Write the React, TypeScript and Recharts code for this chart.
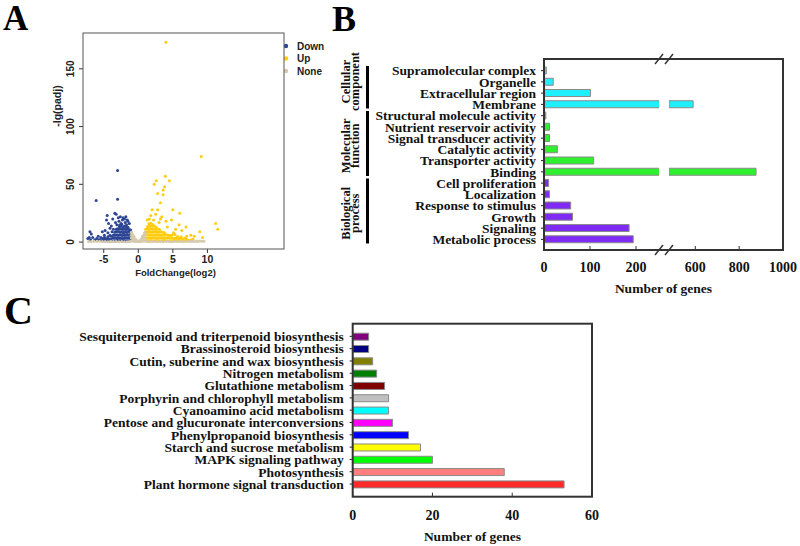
import { BarChart, Bar, Cell, XAxis, YAxis, ScatterChart, Scatter, Legend } from 'recharts';

const SERIF = '"Liberation Serif", "Times New Roman", serif';
const SANS = '"Liberation Sans", Arial, sans-serif';

// ---- A: volcano plot (log2 fold change, -lg padj) ----
const downGenes: [number, number][] = [
  [-6.1, 36], [-3.0, 62], [-3.0, 37], [-7.0, 9], [-7.3, 3], [-6.9, 2], [-6.6, 4], [-6.3, 2], [-6.0, 3],
  [-5.7, 2], [-5.4, 4], [-5.2, 9], [-5.5, 2], [-4.9, 6], [-4.6, 19], [-4.5, 23], [-4.3, 16], [-4.1, 12],
  [-3.9, 14], [-3.7, 20], [-3.6, 11], [-3.4, 25], [-3.2, 24], [-3.3, 17], [-3.1, 15], [-2.9, 21], [-2.8, 18],
  [-2.6, 22], [-2.5, 16], [-2.3, 19], [-2.2, 21], [-2.0, 20], [-1.9, 17], [-1.8, 22], [-1.6, 19], [-1.5, 18],
  [-1.3, 16], [-2.7, 14.5], [-2.4, 15.5], [-1.7, 15], [-4.8, 10], [-4.4, 8], [-3.8, 9], [-5.8, 5], [-6.8, 7],
  [-7.1, 4],
  [-5.2, 1], [-5.0, 2], [-4.8, 1], [-4.7, 3], [-4.5, 1.5], [-4.3, 3], [-4.2, 1], [-4.0, 2.5], [-3.9, 5],
  [-3.8, 1], [-3.7, 3.5], [-3.6, 6], [-4.4, 4.5], [-4.9, 4], [-5.1, 3], [-4.1, 6],
  [-3.5, 1.2], [-3.45, 3.6], [-3.52, 6.1], [-3.4, 8.4],
  [-3.25, 0.8], [-3.2, 3.2], [-3.28, 5.8], [-3.22, 8.9], [-3.18, 11.2],
  [-3.0, 1.5], [-2.98, 3.9], [-3.05, 6.4], [-2.95, 9.1], [-3.02, 11.6],
  [-2.75, 0.9], [-2.72, 3.4], [-2.78, 5.9], [-2.7, 8.6], [-2.76, 11.1], [-2.73, 13.2],
  [-2.5, 1.3], [-2.48, 3.8], [-2.53, 6.3], [-2.46, 8.8], [-2.51, 11.4], [-2.49, 13.6],
  [-2.25, 0.7], [-2.22, 3.1], [-2.28, 5.6], [-2.2, 8.2], [-2.26, 10.8], [-2.23, 13.1],
  [-2.0, 1.4], [-1.97, 3.9], [-2.03, 6.5], [-1.98, 9.0], [-2.02, 11.5], [-2.0, 13.9],
  [-1.75, 0.8], [-1.72, 3.3], [-1.78, 5.8], [-1.7, 8.3], [-1.76, 10.9], [-1.73, 13.0],
  [-1.5, 1.2], [-1.48, 3.7], [-1.53, 6.2], [-1.46, 8.7], [-1.51, 11.2], [-1.49, 12.8],
  [-1.25, 0.9], [-1.22, 3.4], [-1.28, 5.9], [-1.2, 8.4], [-1.26, 10.7],
  [-1.05, 1.3], [-1.08, 3.8], [-1.03, 6.2], [-1.06, 8.6], [-1.1, 10.5],
];

const upGenes: [number, number][] = [
  [4.0, 173], [9.1, 74], [3.9, 57], [2.3, 50], [2.6, 53], [4.5, 53], [3.8, 48], [3.6, 45], [2.8, 42],
  [3.6, 41], [3.2, 34], [2.8, 28], [5.0, 28], [6.0, 25], [2.0, 28], [1.8, 23], [2.5, 24], [3.2, 20],
  [4.0, 18], [4.8, 19], [5.9, 15], [6.3, 10], [6.9, 13], [11.2, 16], [11.5, 11], [8.9, 9], [9.3, 4],
  [8.1, 5], [7.6, 6], [7.0, 5], [5.4, 11], [4.2, 13], [5.1, 8], [3.4, 22], [1.6, 20], [2.2, 19],
  [3.0, 17], [1.3, 19],
  [1.05, 1], [1.07, 3.5], [1.04, 6], [1.08, 8.5], [1.06, 11],
  [1.3, 1.2], [1.28, 3.6], [1.32, 6.1], [1.3, 8.6], [1.27, 11.1], [1.31, 13.5],
  [1.55, 0.9], [1.53, 3.4], [1.57, 5.9], [1.54, 8.4], [1.56, 10.9], [1.52, 13.4], [1.55, 15.9],
  [1.8, 1.3], [1.78, 3.8], [1.82, 6.3], [1.79, 8.8], [1.81, 11.3], [1.8, 13.8], [1.83, 16.2],
  [2.05, 1.0], [2.03, 3.5], [2.07, 6.0], [2.04, 8.5], [2.06, 11.0], [2.05, 13.5], [2.08, 15.2],
  [2.3, 1.2], [2.28, 3.7], [2.32, 6.2], [2.29, 8.7], [2.31, 11.2], [2.3, 13.9],
  [2.55, 0.9], [2.53, 3.4], [2.57, 5.9], [2.54, 8.4], [2.56, 10.9], [2.55, 13.0],
  [2.8, 1.3], [2.78, 3.8], [2.82, 6.3], [2.79, 8.8], [2.81, 11.6],
  [3.05, 1.0], [3.03, 3.5], [3.07, 6.0], [3.04, 8.5], [3.06, 10.8],
  [3.3, 1.2], [3.28, 3.7], [3.32, 6.2], [3.29, 8.9],
  [3.55, 0.9], [3.53, 3.4], [3.57, 5.9], [3.54, 8.6],
  [3.8, 1.3], [3.78, 3.8], [3.82, 6.3], [3.79, 8.1],
  [4.05, 1.0], [4.03, 3.5], [4.07, 6.4],
  [4.3, 1.2], [4.28, 3.7], [4.32, 5.8],
  [4.6, 1], [4.6, 3.4], [4.6, 5.6], [4.9, 1.2], [4.9, 3.6], [4.9, 6.2], [5.2, 0.8], [5.2, 3.1],
  [5.5, 1.4], [5.5, 3.8], [5.8, 1], [5.8, 2.9], [6.1, 1.3], [6.1, 3.5], [6.4, 0.9], [6.4, 2.6],
  [6.7, 1.2], [6.7, 3.2], [7.0, 1.1], [7.0, 2.4], [7.3, 1.4], [7.6, 1.8], [7.9, 2.5], [5.3, 6.5],
  [5.7, 4.8], [6.2, 4.6],
];

const notSigGenes: [number, number][] = [
  [-1.0, 1], [-1.0, 3.5], [-1.0, 6], [-1.0, 8.5], [-0.8, 1], [-0.8, 3.4], [-0.8, 5.8], [-0.6, 0.8],
  [-0.6, 3], [-0.6, 4.8], [-0.4, 0.6], [-0.4, 2.4], [-0.2, 0.4], [-0.2, 1.2], [0, 0.3], [0.2, 0.5],
  [0.2, 1.4], [0.4, 0.6], [0.4, 2.6], [0.6, 0.9], [0.6, 3.1], [0.6, 5], [0.8, 1], [0.8, 3.5], [0.8, 6],
  [1.0, 1.2], [1.0, 3.6], [1.0, 6.3], [1.0, 8.8], [-0.9, 7.5], [0.9, 7.8],
  [-7.2, 0.6], [-6.8, 0.4], [-6.4, 0.8], [-6.0, 0.5], [-5.6, 0.7], [-5.2, 0.4], [-4.8, 0.6], [-4.4, 0.3],
  [-4.0, 0.7], [-3.6, 0.4], [-3.2, 0.5], [-2.8, 0.3], [-2.4, 0.4], [-2.0, 0.2], [-1.6, 0.3], [-1.3, 0.5],
  [1.3, 0.4], [1.6, 0.2], [2.0, 0.3], [2.4, 0.4], [2.8, 0.2], [3.2, 0.5], [3.6, 0.3], [4.0, 0.4],
  [4.4, 0.6], [4.8, 0.3], [5.2, 0.5], [5.6, 0.4], [6.0, 0.6], [6.4, 0.3], [6.8, 0.5], [7.2, 0.4],
  [7.6, 0.6], [8.0, 0.5], [8.3, 0.8], [8.6, 0.6], [8.9, 0.9], [9.2, 0.7], [9.5, 0.8], [7.8, 1.0],
];

const volcanoXTicks = [-5, 0, 5, 10];
const volcanoYTicks = [0, 50, 100, 150];

// ---- B: GO classification ----
const goTerms = [
  'Supramolecular complex', 'Organelle', 'Extracellular region', 'Membrane',
  'Structural molecule activity', 'Nutrient reservoir activity', 'Signal transducer activity',
  'Catalytic activity', 'Transporter activity', 'Binding',
  'Cell proliferation', 'Localization', 'Response to stimulus', 'Growth', 'Signaling', 'Metabolic process',
];
const goCounts = [5, 20, 101, 590, 4, 12, 12, 29, 108, 877, 10, 12, 58, 62, 185, 194];
const goGroups = [
  { lines: ['Cellular', 'component'], size: 4, color: '#1FEFFF', shift: -6 },
  { lines: ['Molecular', 'function'], size: 6, color: '#2EF02E', shift: 2 },
  { lines: ['Biological', 'process'], size: 6, color: '#7F2BF5', shift: 2 },
];
const goLowTicks = [0, 100, 200];
const goHighTicks = [600, 800, 1000];

// ---- C: KEGG enrichment ----
const keggPathways = [
  'Sesquiterpenoid and triterpenoid biosynthesis', 'Brassinosteroid biosynthesis',
  'Cutin, suberine and wax biosynthesis', 'Nitrogen metabolism', 'Glutathione metabolism',
  'Porphyrin and chlorophyll metabolism', 'Cyanoamino acid metabolism',
  'Pentose and glucuronate interconversions', 'Phenylpropanoid biosynthesis',
  'Starch and sucrose metabolism', 'MAPK signaling pathway', 'Photosynthesis',
  'Plant hormone signal transduction',
];
const keggCounts = [4, 4, 5, 6, 8, 9, 9, 10, 14, 17, 20, 38, 53];
const keggColors = [
  '#800080', '#000080', '#808000', '#008000', '#800000', '#C0C0C0', '#00FFFF',
  '#FF00FF', '#0000FF', '#FFFF00', '#00FF00', '#FF7F7F', '#FF2A2A',
];
const keggTicks = [0, 20, 40, 60];

const DOWN = '#2C4594';
const UP = '#FFCC10';
const NONE = '#D6CAAE';

// layout of B (page pixels)
const bTop = 59;
const bBottom = 250;
const bLeft = 544;
const bBreakL = 659;
const bBreakR = 669;
const bRight = 783;
const bPadTop = 6;
const bPadBottom = 5;
const breakLow = 250;
const breakHigh = 480;

const toPoints = (arr: [number, number][]) => arr.map(([x, y]) => ({ x, y }));

const goColors = goGroups.flatMap(g => Array(g.size).fill(g.color));
const goData = goTerms.map((term, i) => ({ term, count: goCounts[i] }));
const goHighData = goTerms.map((term, i) => ({ term, count: goCounts[i] > breakHigh ? goCounts[i] : null }));
const keggData = keggPathways.map((name, i) => ({ name, count: keggCounts[i] }));

const dot = (color: string) => (p: any) => <circle cx={p.cx} cy={p.cy} r={1.5} fill={color} />;

const boldSerifTick = { fontSize: 14, fontWeight: 'bold', fill: '#111', fontFamily: SERIF };
const categoryTick = { fontSize: 13.5, fontWeight: 'bold', fill: '#111', fontFamily: SERIF };

function RotatedTick({ x, y, payload }: any) {
  return (
    <text transform={`translate(${x},${y}) rotate(-90)`} textAnchor="middle"
      fontSize={10} fontWeight="bold" fontFamily={SANS} fill="#222">
      {payload.value}
    </text>
  );
}

function VolcanoLegend() {
  const items = [['Down', DOWN], ['Up', UP], ['None', NONE]];
  return (
    <svg width={60} height={40}>
      {items.map(([label, color], i) => (
        <g key={label}>
          <circle cx={6} cy={5 + i * 12.5} r={2.2} fill={color} />
          <text x={17} y={8.5 + i * 12.5} fontSize={10} fontWeight="bold" fontFamily={SANS} fill="#222">{label}</text>
        </g>
      ))}
    </svg>
  );
}

export default function App() {
  const band = (bBottom - bTop - bPadTop - bPadBottom) / goTerms.length;
  let row = 0;
  const groupMarks = goGroups.map(g => {
    const y0 = bTop + bPadTop + row * band;
    row += g.size;
    const y1 = bTop + bPadTop + row * band;
    return { ...g, y0: y0 + 1, y1: y1 - 1.5, mid: (y0 + y1) / 2 + g.shift };
  });
  const breakX = (bBreakL + bBreakR) / 2;
  const frames = [
    { l: 83, t: 33, r: 284, b: 249, w: 1, c: '#555' },
    { l: bLeft, t: bTop, r: bRight, b: bBottom, w: 2, c: '#333' },
    { l: 352.7, t: 323.7, r: 592, b: 496.7, w: 2, c: '#333' },
  ];

  return (
    <div style={{ position: 'absolute', left: 0, top: 0, width: 800, height: 546, background: '#fff', overflow: 'hidden' }}>
      {/* A */}
      <div style={{ position: 'absolute', left: 0, top: 0 }}>
        <ScatterChart width={340} height={290} margin={{ top: 33, right: 56, bottom: 0, left: 0 }}>
          <XAxis type="number" dataKey="x" domain={[-8, 12.4]} ticks={volcanoXTicks} allowDataOverflow
            axisLine={false} tickSize={4} tickMargin={3} height={41} stroke="#333"
            tick={{ fontSize: 10.5, fontWeight: 'bold', fill: '#222', fontFamily: SANS }} />
          <YAxis type="number" dataKey="y" domain={[-6, 181]} ticks={volcanoYTicks} allowDataOverflow
            axisLine={false} tickSize={4} tickMargin={5} width={83} stroke="#333" tick={<RotatedTick />} />
          <Legend verticalAlign="top" align="right" layout="vertical" content={<VolcanoLegend />}
            wrapperStyle={{ left: 280, top: 41, width: 60 }} />
          <Scatter data={toPoints(downGenes)} fill={DOWN} shape={dot(DOWN)} isAnimationActive={false} />
          <Scatter data={toPoints(upGenes)} fill={UP} shape={dot(UP)} isAnimationActive={false} />
          <Scatter data={toPoints(notSigGenes)} fill={NONE} shape={dot(NONE)} isAnimationActive={false} />
        </ScatterChart>
      </div>

      {/* B, lower segment */}
      <div style={{ position: 'absolute', left: 330, top: 0 }}>
        <BarChart width={bBreakL - 330 + 11} height={300} data={goData} layout="vertical"
          margin={{ top: bTop, right: 11, bottom: 0, left: 0 }}>
          <XAxis type="number" domain={[0, breakLow]} ticks={goLowTicks} allowDataOverflow axisLine={false}
            tickSize={-4} tickMargin={16} height={300 - bBottom} stroke="#333" tick={boldSerifTick} />
          <YAxis type="category" dataKey="term" width={bLeft - 330} interval={0} axisLine={false}
            tickSize={3} tickMargin={5} stroke="#222" padding={{ top: bPadTop, bottom: bPadBottom }} tick={categoryTick} />
          <Bar dataKey="count" barSize={7} stroke="#8a8a8a" strokeWidth={1} isAnimationActive={false}>
            {goData.map((d, i) => <Cell key={d.term} fill={goColors[i]} />)}
          </Bar>
        </BarChart>
      </div>

      {/* B, upper segment */}
      <div style={{ position: 'absolute', left: bBreakR - 9, top: 0 }}>
        <BarChart width={800 - bBreakR + 9} height={300} data={goHighData} layout="vertical"
          margin={{ top: bTop, right: 800 - bRight, bottom: 0, left: 9 }}>
          <XAxis type="number" domain={[breakHigh, 1000]} ticks={goHighTicks} allowDataOverflow axisLine={false}
            tickSize={-4} tickMargin={16} height={300 - bBottom} stroke="#333" tick={boldSerifTick} />
          <YAxis type="category" dataKey="term" hide padding={{ top: bPadTop, bottom: bPadBottom }} />
          <Bar dataKey="count" barSize={7} stroke="#8a8a8a" strokeWidth={1} isAnimationActive={false}>
            {goHighData.map((d, i) => <Cell key={d.term} fill={goColors[i]} />)}
          </Bar>
        </BarChart>
      </div>

      {/* C */}
      <div style={{ position: 'absolute', left: 0, top: 290 }}>
        <BarChart width={620} height={256} data={keggData} layout="vertical"
          margin={{ top: 33.7, right: 28, bottom: 0, left: 0 }}>
          <XAxis type="number" domain={[0, 60]} ticks={keggTicks} axisLine={false}
            tickSize={-4} tickMargin={17} height={49.3} stroke="#333" tick={boldSerifTick} />
          <YAxis type="category" dataKey="name" width={352.7} interval={0} axisLine={false}
            tickSize={3} tickMargin={6} stroke="#222" padding={{ top: 6.5, bottom: 6.5 }} tick={categoryTick} />
          <Bar dataKey="count" barSize={7} stroke="#8a8a8a" strokeWidth={1} isAnimationActive={false}>
            {keggData.map((d, i) => <Cell key={d.name} fill={keggColors[i]} />)}
          </Bar>
        </BarChart>
      </div>

      <svg width={800} height={546} style={{ position: 'absolute', left: 0, top: 0, pointerEvents: 'none' }}>
        {frames.map(f => (
          <rect key={f.l} x={f.l} y={f.t} width={f.r - f.l} height={f.b - f.t}
            fill="none" stroke={f.c} strokeWidth={f.w} />
        ))}

        <g fontFamily={SERIF} fontWeight="bold" fill="#000">
          <text x={3} y={30} fontSize={35}>A</text>
          <text x={332} y={31} fontSize={36}>B</text>
          <text x={4} y={324} fontSize={40}>C</text>
        </g>
        <g fontFamily={SANS} fontWeight="bold" fill="#222" textAnchor="middle">
          <text transform="translate(61,106) rotate(-90)" fontSize={10.5}>-lg(padj)</text>
          <text x={175.5} y={276} fontSize={9.5}>FoldChange(log2)</text>
        </g>

        {groupMarks.map(g => (
          <g key={g.lines[0]}>
            <rect x={366} y={g.y0} width={3} height={g.y1 - g.y0} fill="#000" />
            <text transform={`translate(349.5,${g.mid}) rotate(-90)`} textAnchor="middle" fontSize={12.5}
              fontWeight="bold" fontFamily={SERIF} fill="#111">{g.lines[0]}</text>
            <text transform={`translate(358.5,${g.mid}) rotate(-90)`} textAnchor="middle" fontSize={12.5}
              fontWeight="bold" fontFamily={SERIF} fill="#111">{g.lines[1]}</text>
          </g>
        ))}

        {[bTop, bBottom].map(y => (
          <g key={y} stroke="#333" strokeWidth={1.5}>
            <line x1={breakX - 9} y1={y + 5} x2={breakX - 1} y2={y - 5} />
            <line x1={breakX + 1} y1={y + 5} x2={breakX + 9} y2={y - 5} />
          </g>
        ))}

        <g fontFamily={SERIF} fontWeight="bold" fontSize={13.5} fill="#111" textAnchor="middle">
          <text x={(bLeft + bRight) / 2} y={292.5}>Number of genes</text>
          <text x={472.5} y={540.5}>Number of genes</text>
        </g>
      </svg>
    </div>
  );
}
